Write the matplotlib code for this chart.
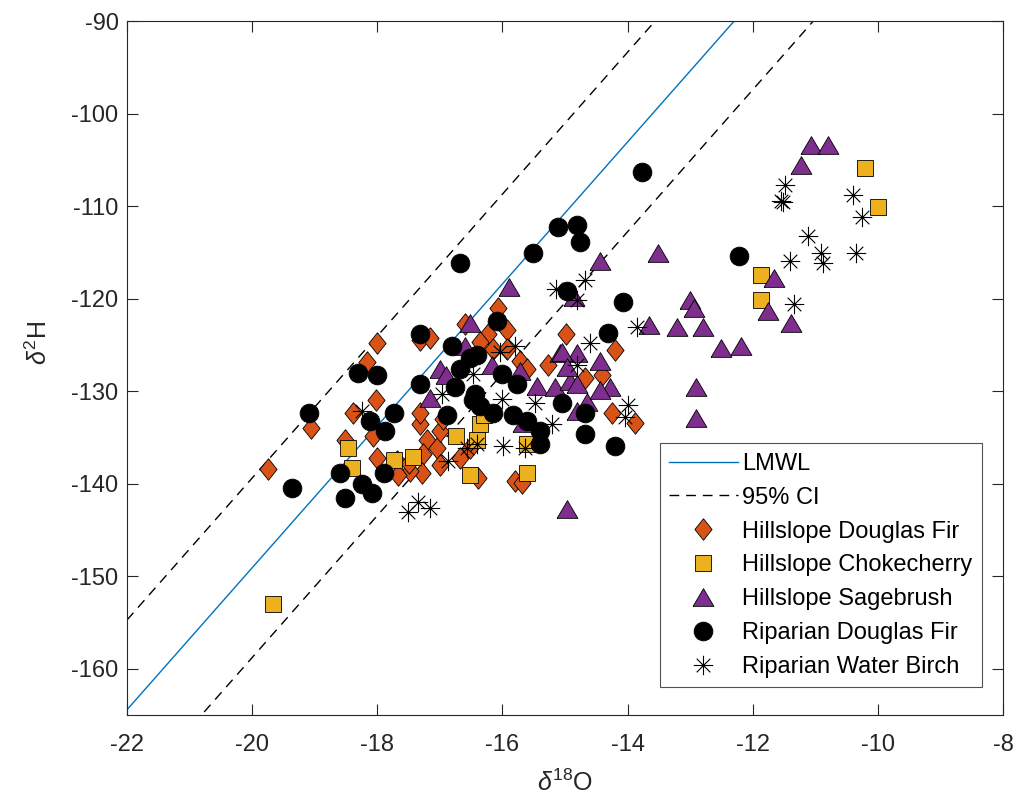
import matplotlib
matplotlib.use("Agg")
import matplotlib.pyplot as plt
import numpy as np
from matplotlib.path import Path

plt.rcParams['font.family'] = ['Liberation Sans', 'DejaVu Sans']
plt.rcParams['mathtext.fontset'] = 'custom'
plt.rcParams['mathtext.rm'] = 'Liberation Sans'
plt.rcParams['mathtext.it'] = 'Liberation Sans:italic'
plt.rcParams['axes.unicode_minus'] = False

# meteoric water line (d2H = slope * d18O + intercept) and its 95% band
lmwl_slope = 7.67
lmwl_intercept = 4.3
ci_offset = 9.7

# Hillslope Douglas Fir
hdf_x = [-19.75, -19.06, -18.39, -18.17, -18.0, -18.02, -18.07, -18.52, -18.0, -17.69,
         -17.32, -17.16, -17.32, -17.21, -17.27, -17.05, -17.29, -17.48, -17.67, -17.0,
         -17.0, -16.52, -16.68, -17.32, -16.07, -16.6, -16.23, -15.93, -16.36, -16.15,
         -15.93, -15.72, -15.61, -14.99, -15.27, -14.2, -14.68, -14.4, -14.25, -13.88,
         -17.5, -16.39, -15.8, -15.69, -16.95]
hdf_y = [-138.4, -134.0, -132.4, -126.9, -124.85, -131.0, -134.8, -135.3, -137.2, -137.5,
         -124.5, -124.3, -133.5, -135.3, -136.8, -136.1, -138.8, -138.6, -139.1, -134.3,
         -138.0, -136.1, -137.2, -132.4, -121.0, -122.7, -123.8, -123.4, -124.7, -125.4,
         -125.4, -126.7, -127.6, -123.8, -127.2, -125.6, -128.6, -128.3, -132.4, -133.4,
         -137.8, -139.4, -139.7, -139.9, -133.0]

# Hillslope Chokecherry
hc_x = [-19.67, -18.47, -18.41, -17.73, -17.43, -16.74, -16.52, -16.36, -16.3, -16.4,
        -15.61, -15.6, -11.86, -11.86, -10.21, -10.0]
hc_y = [-153.0, -136.1, -138.3, -137.4, -137.1, -134.8, -139.1, -133.5, -132.6, -135.3,
        -138.8, -135.7, -117.5, -120.2, -105.9, -110.1]

# Hillslope Sagebrush
hs_x = [-17.16, -17.0, -16.9, -16.52, -16.6, -16.17, -15.72, -15.45, -15.16, -15.08,
        -14.92, -14.81, -15.9, -14.44, -13.52, -14.85, -13.65, -13.21, -13.0, -12.93,
        -12.8, -12.9, -14.44, -14.28, -14.81, -12.9, -14.97, -14.65, -14.81, -15.67,
        -15.04, -14.97, -14.44, -11.06, -10.8, -11.22, -11.66, -11.75, -11.39, -12.51,
        -12.19]
hs_y = [-130.7, -127.6, -128.3, -122.6, -125.1, -127.2, -127.8, -129.4, -129.6, -125.9,
        -128.9, -125.9, -118.8, -115.9, -115.1, -119.8, -122.8, -123.1, -120.2, -121.0,
        -123.1, -129.6, -126.7, -129.6, -129.2, -132.9, -142.7, -131.2, -132.1, -133.4,
        -125.8, -127.4, -129.9, -103.4, -103.4, -105.6, -117.8, -121.3, -122.6, -125.3,
        -125.1]

# Riparian Douglas Fir
rdf_x = [-19.09, -19.36, -18.6, -18.52, -18.31, -18.0, -18.25, -18.09, -18.12, -17.88,
         -17.89, -17.73, -17.32, -16.81, -17.32, -16.89, -16.68, -16.47, -16.52, -16.09,
         -16.41, -16.76, -16.01, -15.77, -16.44, -16.36, -16.15, -15.83, -15.61, -15.4,
         -15.04, -14.97, -15.11, -14.81, -14.76, -15.51, -14.08, -14.32, -16.68, -13.77,
         -12.22, -14.68, -14.68, -14.2, -15.4]
rdf_y = [-132.4, -140.5, -138.8, -141.6, -128.0, -128.3, -140.0, -141.0, -133.2, -134.3,
         -138.9, -132.4, -123.8, -125.1, -129.2, -132.6, -127.6, -131.0, -126.4, -122.4,
         -126.1, -129.6, -128.1, -129.2, -130.3, -131.6, -132.4, -132.6, -133.2, -134.3,
         -131.3, -119.2, -112.3, -112.1, -113.9, -115.1, -120.4, -123.7, -116.1, -106.3,
         -115.4, -132.4, -134.6, -135.9, -135.7]

# Riparian Water Birch
rwb_x = [-17.51, -17.35, -17.16, -18.25, -16.87, -16.97, -16.47, -16.57, -16.04, -15.8,
         -16.01, -15.48, -15.15, -14.68, -14.81, -13.85, -14.6, -14.8, -15.99, -15.64,
         -16.41, -14.0, -14.04, -15.2, -11.49, -11.52, -11.55, -10.39, -10.26, -11.11,
         -11.41, -10.91, -10.88, -10.35, -11.34]
rwb_y = [-143.1, -142.0, -142.6, -132.1, -137.5, -130.3, -128.1, -136.1, -125.8, -125.1,
         -130.8, -131.3, -119.0, -118.0, -120.2, -123.1, -124.8, -127.2, -135.9, -136.2,
         -135.7, -131.5, -132.8, -133.5, -107.7, -109.6, -109.4, -108.8, -111.2, -113.2,
         -115.9, -115.1, -116.2, -115.1, -120.6]

# MATLAB-like marker shapes
diamond = [(0, 1), (0.8, 0), (0, -1), (-0.8, 0), (0, 1)]
triangle = [(-1, -0.85), (1, -0.85), (0, 0.85), (-1, -0.85)]
star = Path([(-1, 0), (1, 0), (0, -1), (0, 1), (-0.7, -0.7), (0.7, 0.7), (-0.7, 0.7), (0.7, -0.7)],
            [Path.MOVETO, Path.LINETO] * 4)

fig = plt.figure(figsize=(10.23, 8.11), dpi=100)
ax = fig.add_axes([0.1241, 0.1184, 0.8563, 0.8557])

xl = np.array([-22, -8])
ax.plot(xl, lmwl_slope * xl + lmwl_intercept, color='#0072BD', lw=1.0, label='LMWL')
ax.plot(xl, lmwl_slope * xl + lmwl_intercept + ci_offset, color='black', lw=1.0,
        dashes=(7, 5), label='95% CI')
ax.plot(xl, lmwl_slope * xl + lmwl_intercept - ci_offset, color='black', lw=1.0,
        dashes=(7, 5))

ax.plot(hdf_x, hdf_y, ls='none', marker=diamond, ms=15.5, mfc='#D95319', mec='black',
        mew=0.6, label='Hillslope Douglas Fir')
ax.plot(hc_x, hc_y, ls='none', marker='s', ms=11.5, mfc='#EDB120', mec='black',
        mew=0.6, label='Hillslope Chokecherry')
ax.plot(hs_x, hs_y, ls='none', marker=triangle, ms=15, mfc='#7E2F8E', mec='black',
        mew=0.6, label='Hillslope Sagebrush')
ax.plot(rdf_x, rdf_y, ls='none', marker='o', ms=13.5, mfc='black', mec='black',
        mew=0.6, label='Riparian Douglas Fir')
ax.plot(rwb_x, rwb_y, ls='none', marker=star, ms=14, mfc='none', mec='black',
        mew=0.8, label='Riparian Water Birch')

ax.set_xlim(-22, -8)
ax.set_ylim(-165, -90)
ax.set_xticks(np.arange(-22, -7, 2))
ax.set_yticks(np.arange(-160, -89, 10))
ax.tick_params(direction='in', length=8, width=0.8, top=True, right=True,
               labelsize=17, colors='#262626')
ax.tick_params(axis='x', pad=14)
ax.tick_params(axis='y', pad=6)
for s in ax.spines.values():
    s.set_color('#262626')
    s.set_linewidth(0.8)

ax.set_xlabel(r'$\delta^{18}$O', fontsize=18, color='#262626')
ax.set_ylabel(r'$\delta^{2}$H', fontsize=18, color='#262626')
ax.xaxis.set_label_coords(0.5, -0.079)
ax.yaxis.set_label_coords(-0.086, 0.536)

leg = ax.legend(loc='lower right', bbox_to_anchor=(0.976, 0.040), borderaxespad=0,
                fontsize=17, frameon=True, fancybox=False, edgecolor='#262626',
                handlelength=2.9, handletextpad=0.2, labelspacing=0.5,
                borderpad=0.4)
leg.get_frame().set_linewidth(0.8)

fig.savefig('out.png', dpi=100)
